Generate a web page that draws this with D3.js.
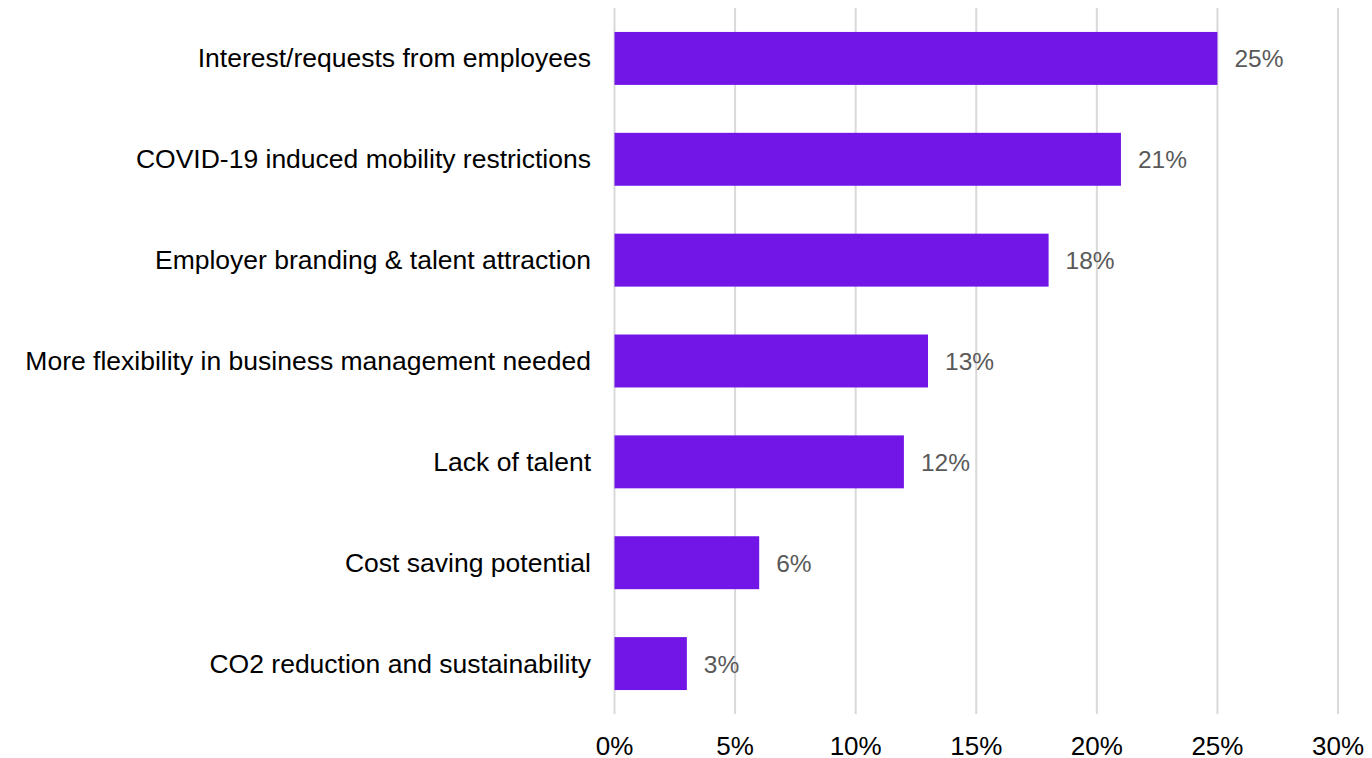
<!DOCTYPE html>
<head>
  <title>Reasons</title>
  <style>
    body { margin: 0; background: #fff; }
    text { font-family: "Liberation Sans", Arial, sans-serif; }
  </style>
</head>
<body>
  <script src="https://cdn.jsdelivr.net/npm/d3@7"></script>
  <script>
    // categories and values (percent)
    var categories = [
      "Interest/requests from employees",
      "COVID-19 induced mobility restrictions",
      "Employer branding & talent attraction",
      "More flexibility in business management needed",
      "Lack of talent",
      "Cost saving potential",
      "CO2 reduction and sustainability"
    ];
    var values = [25, 21, 18, 13, 12, 6, 3];
    var tickValues = [0, 5, 10, 15, 20, 25, 30];

    var width = 1372, height = 758;

    var x = d3.scaleLinear().domain([0, 30]).range([614.5, 1338]);
    var y = d3.scaleBand().domain(categories).range([8, 714])
        .paddingInner(0.475).paddingOuter(0.2375);

    var svg = d3.select("body").append("svg")
        .attr("width", width)
        .attr("height", height);

    // vertical gridlines
    svg.append("g").selectAll("line").data(tickValues).enter().append("line")
        .attr("x1", function(d){ return x(d); })
        .attr("x2", function(d){ return x(d); })
        .attr("y1", 8)
        .attr("y2", 714)
        .attr("stroke", "#d9d9d9")
        .attr("stroke-width", 2);

    // tick labels
    svg.append("g").selectAll("text").data(tickValues).enter().append("text")
        .attr("x", function(d){ return x(d); })
        .attr("y", 755)
        .attr("text-anchor", "middle")
        .style("font-size", "26px")
        .attr("fill", "#000")
        .text(function(d){ return d + "%"; });

    // bars
    svg.append("g").selectAll("rect").data(values).enter().append("rect")
        .attr("x", x(0))
        .attr("y", function(d, i){ return y(categories[i]); })
        .attr("width", function(d){ return x(d) - x(0); })
        .attr("height", y.bandwidth())
        .attr("fill", "#7216e8");

    // value labels
    svg.append("g").selectAll("text").data(values).enter().append("text")
        .attr("x", function(d){ return x(d) + 17; })
        .attr("y", function(d, i){ return y(categories[i]) + y.bandwidth() / 2 + 9; })
        .style("font-size", "24.5px")
        .attr("fill", "#595959")
        .text(function(d){ return d + "%"; });

    // category labels
    svg.append("g").selectAll("text").data(categories).enter().append("text")
        .attr("x", 591)
        .attr("y", function(d){ return y(d) + y.bandwidth() / 2 + 9; })
        .attr("text-anchor", "end")
        .style("font-size", "26.5px")
        .attr("fill", "#000")
        .text(function(d){ return d; });
  </script>
</body>
